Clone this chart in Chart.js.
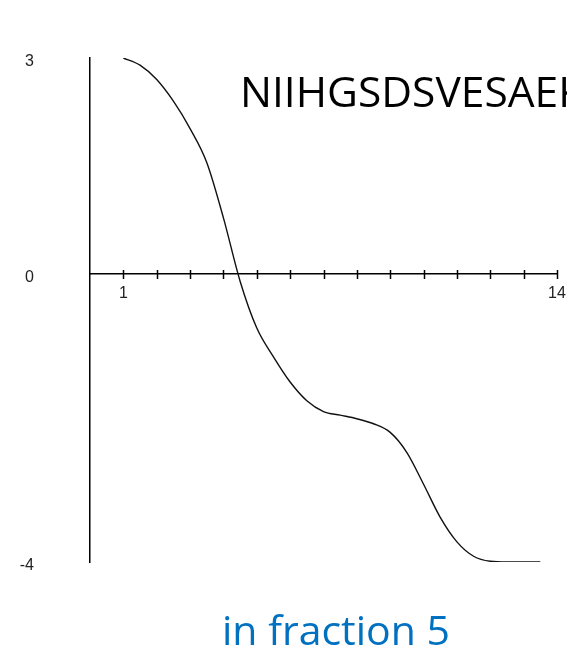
<!DOCTYPE html>
<html>
<head>
<meta charset="utf-8">
<script src="https://cdn.jsdelivr.net/npm/chart.js@4/dist/chart.umd.min.js"></script>
<style>
  html, body { margin: 0; padding: 0; background: #fff; }
  #wrap { width: 567px; height: 649px; }
</style>
</head>
<body>
<div id="wrap"><canvas id="plot" width="567" height="649"></canvas></div>
<script>
// curve (residue position, score)
const positions = [1, 1.5, 2, 2.5, 3, 3.5, 4, 4.5, 5, 5.5, 6, 6.5, 7, 7.5, 8, 8.5, 9, 9.5, 10, 10.5, 11, 11.5, 12, 12.5, 13, 13.5];
const scores = [3.0, 2.9, 2.7, 2.4, 2.02, 1.55, 0.78, -0.1, -0.75, -1.15, -1.5, -1.76, -1.91, -1.96, -2.01, -2.08, -2.2, -2.48, -2.92, -3.38, -3.72, -3.92, -3.99, -4.0, -4.0, -4.0];

const xTicks = [1, 2, 3, 4, 5, 6, 7, 8, 9, 10, 11, 12, 13, 14];
const xLabelled = [1, 14];
const yTicks = [-4, 0, 3];

const titleText = 'NIIHGSDSVESAEK';
const captionText = 'in fraction 5';

// small crosses on the x axis, both sides of the line
const tickCross = {
  id: 'tickCross',
  afterDraw(chart) {
    const ctx = chart.ctx;
    const xs = chart.scales.x;
    const y0 = chart.scales.y.getPixelForValue(0);
    ctx.save();
    ctx.strokeStyle = '#000';
    ctx.lineWidth = 1.5;
    xs.ticks.forEach(t => {
      const px = Math.round(xs.getPixelForValue(t.value)) + 0.5;
      ctx.beginPath();
      ctx.moveTo(px, y0 - 4);
      ctx.lineTo(px, y0 + 5);
      ctx.stroke();
    });
    ctx.restore();
  }
};

const texts = {
  id: 'texts',
  afterDraw(chart) {
    const ctx = chart.ctx;
    ctx.save();
    ctx.textAlign = 'left';
    ctx.textBaseline = 'alphabetic';
    ctx.fillStyle = '#000';
    ctx.font = '42.5px "Open Sans"';
    ctx.fillText(titleText, 240, 107);
    ctx.fillStyle = '#0070C0';
    ctx.font = '41px "Open Sans"';
    ctx.fillText(captionText, 222, 645);
    ctx.restore();
  }
};

// keep the label overflow from shrinking the plot area
const noPad = s => { s.paddingLeft = 0; s.paddingRight = 0; s.paddingTop = 0; s.paddingBottom = 0; };

new Chart(document.getElementById('plot').getContext('2d'), {
  type: 'line',
  data: {
    datasets: [{
      data: positions.map((p, i) => ({ x: p, y: scores[i] })),
      borderColor: '#111',
      borderWidth: 1.4,
      pointRadius: 0,
      fill: false,
      cubicInterpolationMode: 'monotone'
    }]
  },
  options: {
    responsive: false,
    animation: false,
    layout: { padding: { top: 58, bottom: 87, left: 0, right: 10 } },
    plugins: { legend: { display: false }, tooltip: { enabled: false } },
    scales: {
      x: {
        type: 'linear',
        position: { y: 0 },
        min: 0,
        max: 14,
        afterBuildTicks: s => { s.ticks = xTicks.map(v => ({ value: v })); },
        afterFit: noPad,
        grid: { display: false, drawTicks: false },
        border: { display: true, color: '#000', width: 1.5 },
        ticks: {
          padding: 10,
          color: '#222',
          font: { family: 'Liberation Sans', size: 16 },
          maxRotation: 0,
          autoSkip: false,
          callback: v => xLabelled.includes(v) ? String(v) : ''
        }
      },
      y: {
        type: 'linear',
        position: 'left',
        min: -4,
        max: 3,
        afterBuildTicks: s => { s.ticks = yTicks.map(v => ({ value: v })); },
        afterFit: s => { noPad(s); s.width = 90; },
        grid: { display: false, drawTicks: false },
        border: { display: true, color: '#000', width: 1.5 },
        ticks: {
          padding: 56,
          color: '#222',
          labelOffset: 4,
          font: { family: 'Liberation Sans', size: 16 }
        }
      }
    }
  },
  plugins: [tickCross, texts]
});
</script>
</body>
</html>
